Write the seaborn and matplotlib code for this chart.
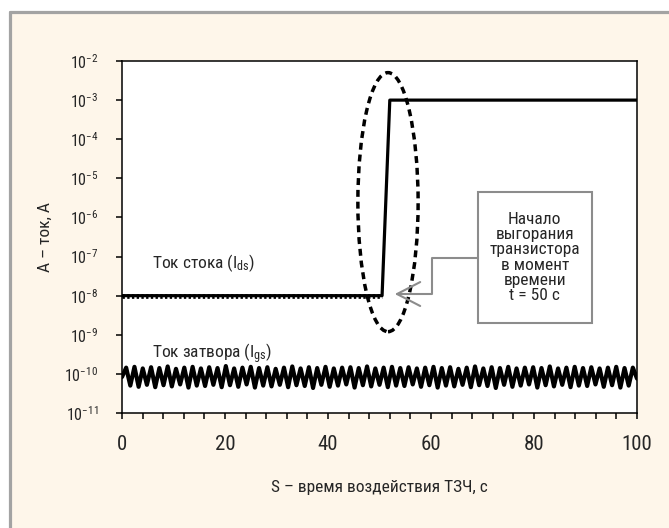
import numpy as np
import matplotlib
matplotlib.use('Agg')
import matplotlib.pyplot as plt
import seaborn as sns
from matplotlib import font_manager
from matplotlib.patches import Rectangle, Ellipse
from matplotlib.lines import Line2D
from matplotlib.ticker import FixedLocator, FuncFormatter, NullLocator

# drain current (Ids): flat, then burn-out at ~50 s
drain_t = [0, 50.5, 52, 100]
drain_i = [1e-8, 1e-8, 1e-3, 1e-3]

# gate current (Igs): zigzag around 1e-10 (log10 values)
gate_log = [
    -10.08, -9.84, -10.30, -9.82, -10.33, -9.86, -10.28, -9.83, -10.34, -9.85,
    -10.29, -9.81, -10.32, -9.87, -10.27, -9.84, -10.35, -9.82, -10.30, -9.86,
    -10.31, -9.83, -10.28, -9.85, -10.34, -9.80, -10.29, -9.86, -10.33, -9.84,
    -10.27, -9.82, -10.35, -9.85, -10.30, -9.83, -10.32, -9.87, -10.28, -9.84,
    -10.34, -9.81, -10.29, -9.86, -10.31, -9.83, -10.36, -9.85, -10.28, -9.82,
    -10.33, -9.86, -10.30, -9.84, -10.27, -9.83, -10.35, -9.85, -10.29, -9.81,
    -10.32, -9.86, -10.28, -9.84, -10.34, -9.82, -10.30, -9.85, -10.31, -9.83,
    -10.27, -9.86, -10.33, -9.84, -10.29, -9.82, -10.35, -9.85, -10.30, -9.83,
    -10.32, -9.87, -10.28, -9.84, -10.34, -9.81, -10.29, -9.86, -10.31, -9.83,
    -10.36, -9.85, -10.28, -9.82, -10.33, -9.86, -10.30, -9.84, -10.27, -9.83,
    -10.35, -9.85, -10.29, -9.81, -10.32, -9.86, -10.28, -9.84, -10.34, -9.82,
    -10.30, -9.85, -10.31, -9.83, -10.27, -9.86, -10.33, -9.84, -10.29, -9.82,
    -10.35, -9.85, -10.30, -9.84, -10.12,
]
gate_t = np.linspace(0, 100, len(gate_log))
gate_i = 10 ** np.array(gate_log)

y_decades = [-11, -10, -9, -8, -7, -6, -5, -4, -3, -2]
x_labels = [0, 20, 40, 60, 80, 100]
x_minor = [4, 8, 12, 16, 24, 28, 32, 36, 44, 48, 52, 56, 64, 68, 72, 76, 84, 88, 92, 96]

note_text = 'Начало\nвыгорания\nтранзистора\nв момент\nвремени\nt = 50 с'

sns.set_style('white')
names = {f.name for f in font_manager.fontManager.ttflist}
main_font = 'DejaVu Sans'
for cand in ['Liberation Sans Narrow', 'Roboto Condensed', 'Liberation Sans']:
    if cand in names:
        main_font = cand
        break
plt.rcParams['font.family'] = [main_font, 'DejaVu Sans']
plt.rcParams['mathtext.fontset'] = 'custom'
plt.rcParams['mathtext.rm'] = main_font
plt.rcParams['mathtext.it'] = main_font
plt.rcParams['mathtext.default'] = 'regular'

beige = '#fef6ea'
fig = plt.figure(figsize=(6.69, 5.28), dpi=100, facecolor='white')
fig.patches.append(Rectangle((10 / 669, 0), 1, (528 - 12) / 528, transform=fig.transFigure,
                             facecolor=beige, edgecolor='none', zorder=-5))
fig.lines.append(Line2D([10 / 669, 10 / 669], [0, (528 - 12) / 528], transform=fig.transFigure,
                        color='#a3a3a3', lw=2.3))
fig.lines.append(Line2D([10 / 669, 1], [(528 - 12) / 528, (528 - 12) / 528], transform=fig.transFigure,
                        color='#a3a3a3', lw=2.3))

ax = fig.add_axes([122 / 669, (528 - 413) / 528, 515 / 669, 352 / 528])
ax.set_facecolor('white')

sns.lineplot(x=gate_t, y=gate_i, ax=ax, color='black', lw=3.0, sort=False, zorder=3)
sns.lineplot(x=drain_t, y=drain_i, ax=ax, color='black', lw=2.3, sort=False, zorder=3)
# beaded look of the flat drain part
sns.lineplot(x=drain_t[:2], y=drain_i[:2], ax=ax, color='black', lw=3.4,
             linestyle=(0, (0.5, 0.5)), zorder=3)

ax.set_yscale('log')
ax.set_ylim(1e-11, 1e-2)
ax.set_xlim(0, 100)
ax.yaxis.set_major_locator(FixedLocator([10.0 ** d for d in y_decades]))
ax.yaxis.set_minor_locator(NullLocator())
ax.yaxis.set_major_formatter(FuncFormatter(lambda v, p: r'$10^{%d}$' % round(np.log10(v))))
ax.set_xticks(x_labels)
ax.set_xticks(x_minor, minor=True)

for s in ax.spines.values():
    s.set_color('black')
    s.set_linewidth(1.1)
ax.tick_params(axis='x', which='both', direction='out', length=4, width=1.1, color='black',
               labelsize=15, pad=12)
ax.tick_params(axis='y', which='major', direction='out', length=4, width=1.1, color='black',
               labelsize=11.5, pad=13, left=True)
ax.tick_params(axis='x', which='both', bottom=True)

ax.set_xlabel('S – время воздействия ТЗЧ, с', fontsize=12.5)
ax.set_ylabel('А – ток, А', fontsize=12.5)
ax.xaxis.set_label_coords(0.5, -0.19)
ax.yaxis.set_label_coords(-0.135, 0.5)

ax.text(0.058, 0.412, r'Ток стока (I$_{\rm ds}$)', transform=ax.transAxes, fontsize=12.5,
        va='baseline', ha='left')
ax.text(0.058, 0.156, r'Ток затвора (I$_{\rm gs}$)', transform=ax.transAxes, fontsize=12.5,
        va='baseline', ha='left')

# dashed ellipse around the burn-out step
ax.add_patch(Ellipse((0.5165, 0.599), 0.117, 0.736, transform=ax.transAxes, fill=False,
                     edgecolor='black', lw=2.5, linestyle=(0, (2.0, 1.4)), clip_on=False, zorder=4))

# callout box and arrow
gray = '#8c8c8c'
ax.add_patch(Rectangle((0.691, 0.256), 0.221, 0.372, transform=ax.transAxes,
                       facecolor='white', edgecolor=gray, lw=1.5, zorder=5))
ax.text(0.8015, 0.442, note_text, transform=ax.transAxes, fontsize=12.5, ha='center', va='center',
        linespacing=1.02, zorder=6)
ax.plot([0.691, 0.602, 0.602, 0.534], [0.440, 0.440, 0.338, 0.338], transform=ax.transAxes,
        color=gray, lw=1.5, clip_on=False, zorder=5)
ax.plot([0.579, 0.534, 0.579], [0.372, 0.338, 0.304], transform=ax.transAxes,
        color=gray, lw=1.5, clip_on=False, zorder=5)

fig.savefig('out.png', dpi=100, facecolor=fig.get_facecolor())
